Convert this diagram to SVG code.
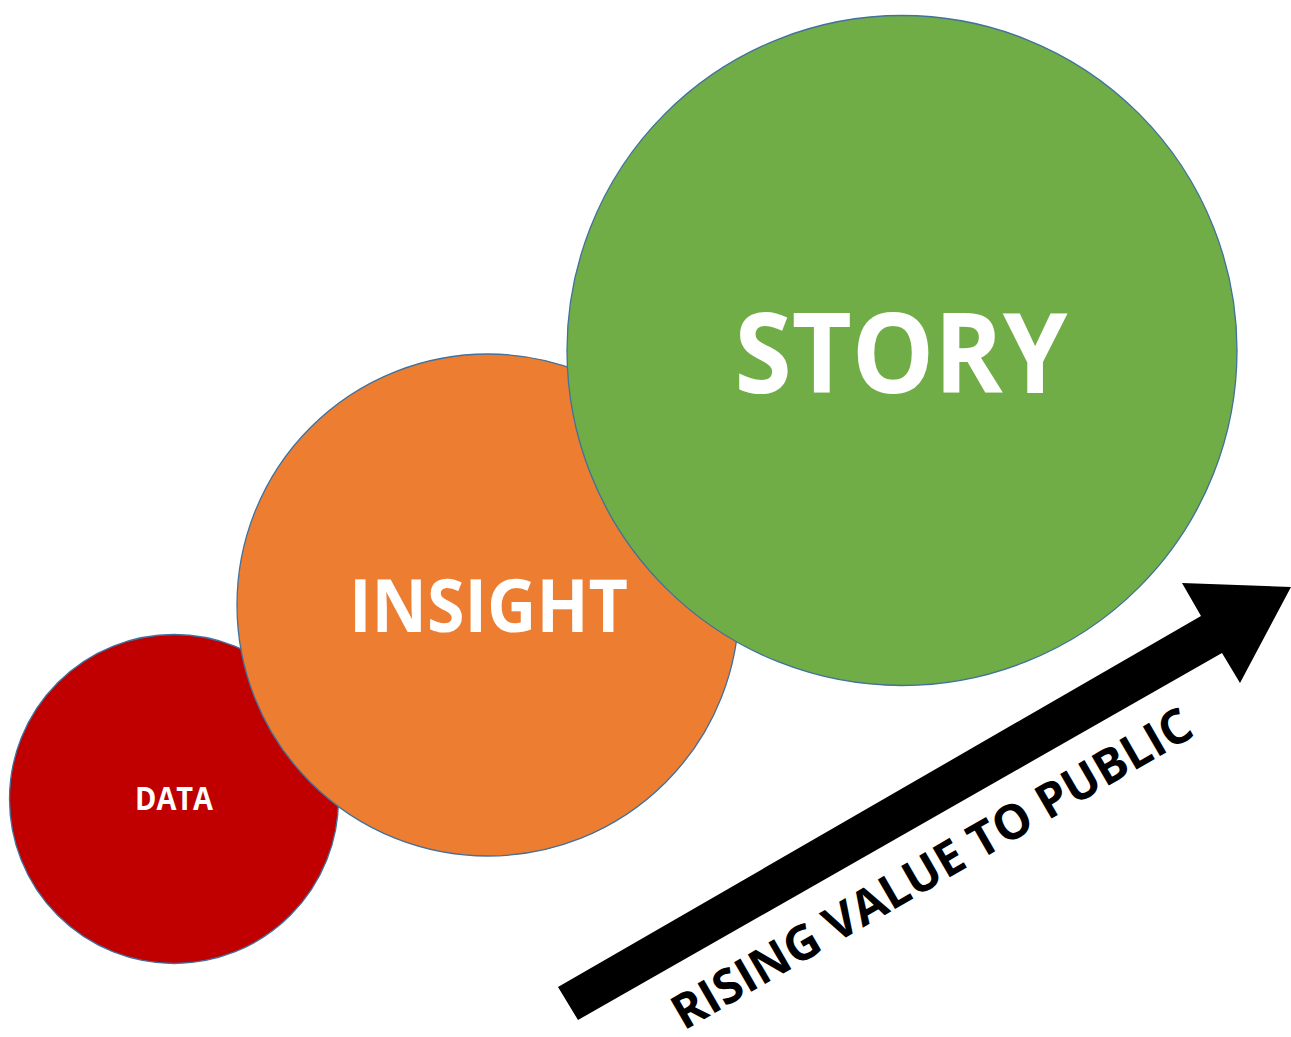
<svg xmlns="http://www.w3.org/2000/svg" width="1291" height="1037" viewBox="0 0 1291 1037">
<style>
.node circle{stroke:#41719C;stroke-width:1.3}
.lbl{font-family:"Open Sans","Liberation Sans",sans-serif;font-weight:700;fill:#FFFFFF;text-anchor:middle}
.arrowtxt{font-family:"Open Sans","Liberation Sans",sans-serif;font-weight:700;fill:#000000;text-anchor:middle}
</style>
<rect width="1291" height="1037" fill="#FFFFFF"/>
<g id="data" class="node">
<circle cx="174" cy="799" r="164.5" fill="#C00000"/>
<text class="lbl" x="174" y="810" font-size="32" textLength="78" lengthAdjust="spacingAndGlyphs">DATA</text>
</g>
<g id="insight" class="node">
<circle cx="488" cy="605" r="251" fill="#ED7D31"/>
<text class="lbl" x="488.5" y="632" font-size="74" textLength="279" lengthAdjust="spacingAndGlyphs">INSIGHT</text>
</g>
<g id="story" class="node">
<circle cx="902" cy="350.5" r="335" fill="#70AD47"/>
<text class="lbl" x="901" y="393" font-size="111" textLength="333" lengthAdjust="spacingAndGlyphs">STORY</text>
</g>
<g id="connectors">
<polygon points="558,987 1201,616 1182,583 1291,587 1240,683 1222,653 578,1020" fill="#000000"/>
</g>
<g id="arrow-label">
<text class="arrowtxt" transform="translate(940,883) rotate(-30)" x="0" y="0" font-size="48" textLength="592" lengthAdjust="spacingAndGlyphs">RISING VALUE TO PUBLIC</text>
</g>
</svg>
